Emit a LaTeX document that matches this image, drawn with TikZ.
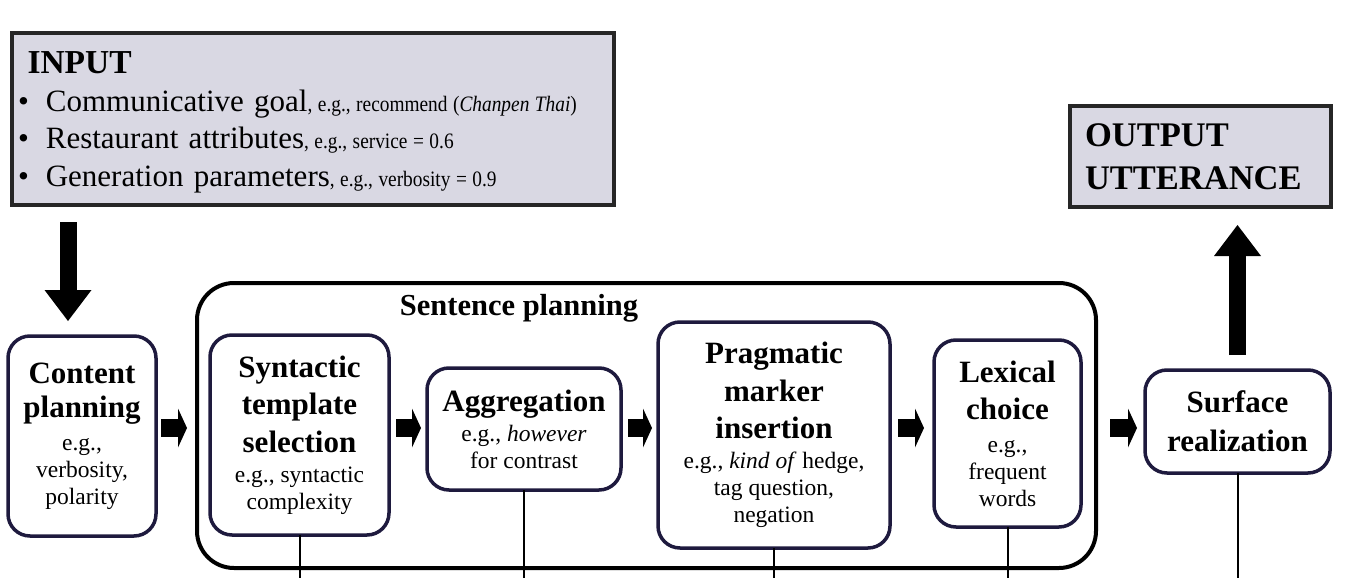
\documentclass[tikz,border=0pt]{standalone}
\usepackage{fontspec}
\setmainfont{Liberation Serif}
\newfontfamily\narrowserif[FakeStretch=0.88]{Liberation Serif}
\usetikzlibrary{positioning}
\usetikzlibrary{arrows.meta}

\definecolor{iofill}{HTML}{D9D8E3}
\definecolor{stageline}{HTML}{1E1A3E}
\newcommand{\hd}[1]{{\fontsize{31}{31}\selectfont\bfseries #1}}
\newcommand{\sm}{\narrowserif\fontsize{22}{22}\selectfont\spaceskip=5.5pt\relax}

\begin{document}
\begin{tikzpicture}[x=1pt, y=-1pt,
  iobox/.style={draw=black!85, line width=3.5pt, fill=iofill, align=left, outer sep=0pt},
  stage/.style={draw=stageline, line width=3.5pt, rounded corners=22pt, align=center,
    inner sep=0pt, outer sep=0pt, font={\fontsize{23.5}{27}\selectfont\lineskiplimit=-100pt}},
  group/.style={draw=black, line width=4pt, rounded corners=37pt, outer sep=0pt},
  flow/.style={line width=18pt, -{Triangle[length=9pt, width=39pt, line width=0pt]}},
  bigflow/.style={line width=17pt, -{Triangle[length=31pt, width=47pt, line width=0pt]}},
  link/.style={line width=2pt}]
\useasboundingbox (0,0) rectangle (1371,578);

% Define nodes
% Input and output
\node[iobox, text width=590pt, inner xsep=6pt, minimum height=172pt,
  font={\fontsize{31}{37.5}\selectfont\spaceskip=8pt\lineskiplimit=-100pt}] (input) at (313,119)
  {\mbox{\rule{0pt}{29pt}\hspace*{9.5pt}{\fontsize{33.5}{37.5}\selectfont\bfseries INPUT}}\\
   \mbox{\textbullet\hspace{17pt}Communicative goal{\sm, e.g., recommend (\textit{Chanpen Thai})}}\\
   \mbox{\textbullet\hspace{17pt}Restaurant attributes{\sm, e.g., service = 0.6}}\\
   \mbox{\textbullet\hspace{17pt}Generation parameters{\sm, e.g., verbosity = 0.9}}};
\node[iobox, text width=231pt, inner xsep=15pt, minimum height=101pt,
  font={\fontsize{34.5}{42.6}\selectfont\bfseries\lineskiplimit=-100pt}] (output) at (1200.5,156.5)
  {OUTPUT\\UTTERANCE};

% Sentence planning frame
\node[group, minimum width=899pt, minimum height=285pt] (sentplan) at (646.5,425.5) {};
\node[anchor=base, font=\fontsize{30.5}{30.5}\selectfont\bfseries] (splabel) at (519,315) {Sentence planning};

% Stages
\node[stage, minimum width=148pt, minimum height=200pt] (content) at (82,436)
  {\hd{Content}\\[7pt]\hd{planning}\\[6pt]e.g.,\\verbosity,\\polarity};
\node[stage, minimum width=179pt, minimum height=200pt, right=54pt of content, yshift=1pt] (syn)
  {\hd{Syntactic}\\[10pt]\hd{template}\\[11pt]\hd{selection}\\[3pt]e.g., syntactic\\complexity};
\node[stage, minimum width=194pt, minimum height=122pt, right=38pt of syn, yshift=6pt] (agg)
  {\hd{Aggregation}\\[3pt]e.g., \textit{however}\\for contrast};
\node[stage, minimum width=232pt, minimum height=226pt, right=37pt of agg, yshift=-6pt] (prag)
  {\hd{Pragmatic}\\[11pt]\hd{marker}\\[10pt]\hd{insertion}\\[3pt]e.g., \textit{kind of} hedge,\\tag question,\\negation};
\node[stage, minimum width=147pt, minimum height=187pt, right=44pt of prag, yshift=1.5pt] (lex)
  {\hd{Lexical}\\[10pt]\hd{choice}\\[6pt]e.g.,\\frequent\\words};
\node[stage, minimum width=185pt, minimum height=103pt, right=64pt of lex, yshift=12pt] (surf)
  {\hd{Surface}\\[12pt]\hd{realization}};

\coordinate (row) at (0,428);
\coordinate (bottom) at (0,578);

% Edges
\draw[bigflow, shorten <=17pt, shorten >=15pt] ([xshift=56pt]input.south west) -- ([xshift=-14pt]content.north);
\draw[flow, shorten <=5pt, shorten >=23pt] (content.east |- row) -- (syn.west |- row);
\draw[flow, shorten <=7pt, shorten >=6pt] (syn.east |- row) -- (agg.west |- row);
\draw[flow, shorten <=7pt, shorten >=6pt] (agg.east |- row) -- (prag.west |- row);
\draw[flow, shorten <=8pt, shorten >=10pt] (prag.east |- row) -- (lex.west |- row);
\draw[flow, shorten <=29pt, shorten >=8pt] (lex.east |- row) -- (surf.west |- row);
\draw[bigflow, shorten <=15pt, shorten >=18pt] (surf.north) -- (surf.north |- output.south);
\foreach \s in {syn,agg,prag,lex,surf}
  \draw[link] (\s.south) -- (\s.south |- bottom);
\end{tikzpicture}
\end{document}
